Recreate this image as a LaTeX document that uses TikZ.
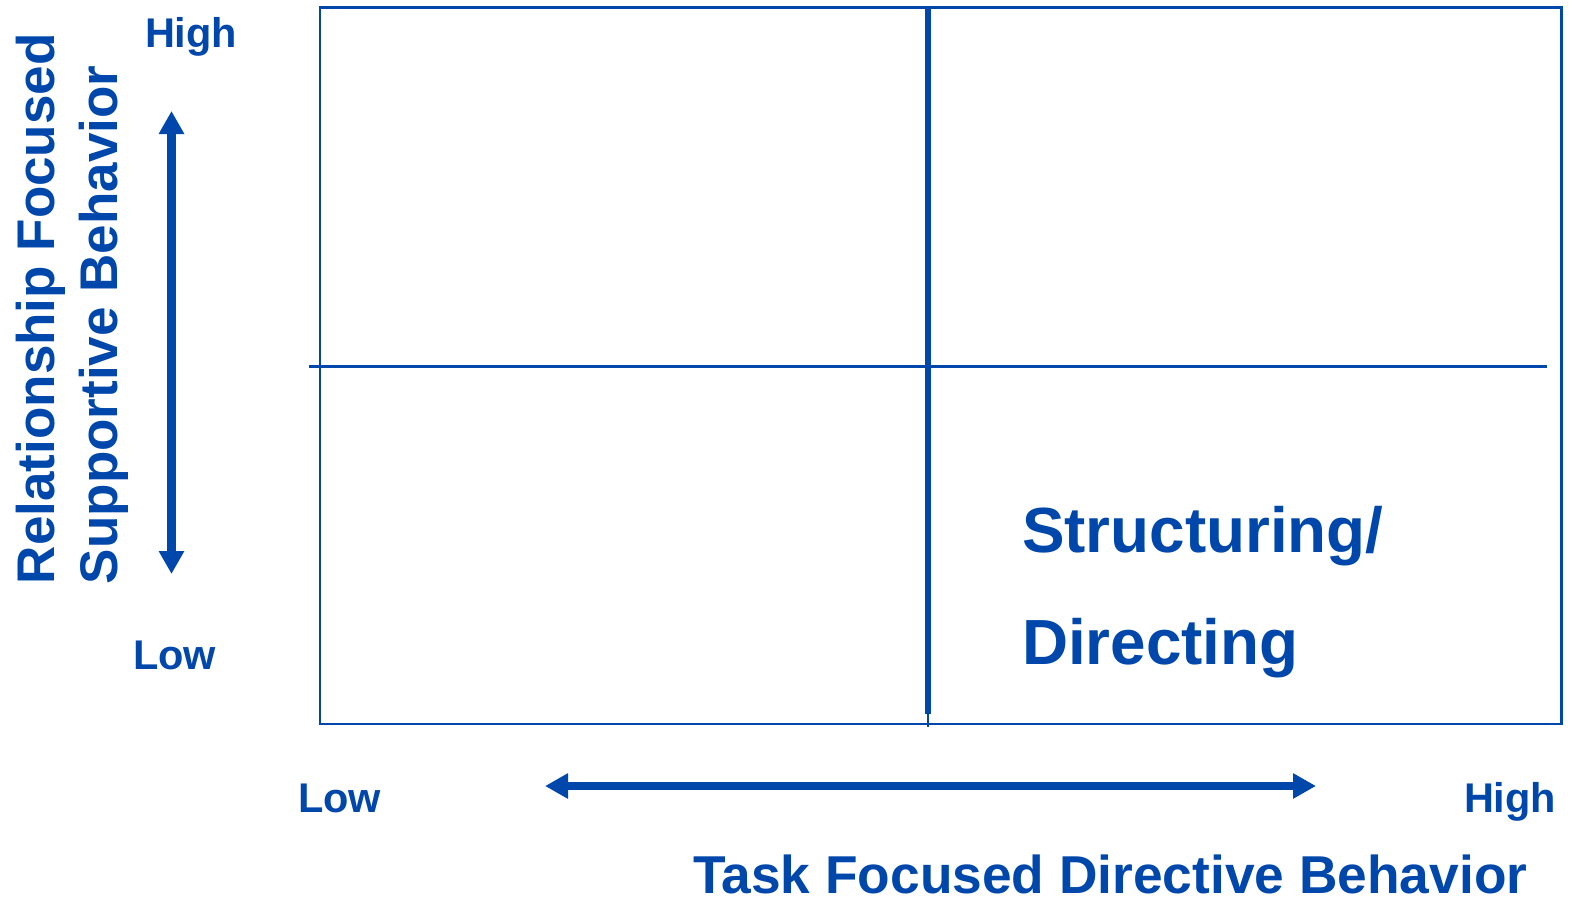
\documentclass[tikz,border=0pt]{standalone}
\usepackage{fontspec}
\setmainfont{Liberation Sans}
\usetikzlibrary{arrows.meta}
\definecolor{gridblue}{RGB}{0,71,171}
\begin{document}
\begin{tikzpicture}[x=1pt,y=-1pt,
  lbl/.style={text=gridblue,font=\bfseries,inner sep=0pt,outer sep=0pt},
  axisarrow/.style={draw=gridblue,line width=8.5pt,
    {Triangle[width=24pt,length=23pt]}-{Triangle[width=24pt,length=23pt]}}]
\useasboundingbox (0,0) rectangle (1573,900);
% quadrant frame
\draw[gridblue,line width=2.5pt] (320,7.5) rectangle (1561.5,724);
% horizontal divider
\coordinate (hl) at (309,366.5);
\coordinate (hr) at (1547,366.5);
\draw[gridblue,line width=2.5pt] (hl) -- (hr);
% vertical divider
\coordinate (vt) at (928,7);
\coordinate (vm) at (928,714);
\coordinate (vb) at (928,727);
\draw[gridblue,line width=5.5pt] (vt) -- (vm);
\draw[gridblue,line width=2pt] (vm) -- (vb);
% axis arrows
\coordinate (ya) at (171.5,111);
\coordinate (yb) at (171.5,574);
\draw[axisarrow] (ya) -- (yb);
\coordinate (xa) at (545,786);
\coordinate (xb) at (1316,786);
\draw[axisarrow] (xa) -- (xb);
% labels
\node[lbl,anchor=base west,font=\fontsize{41.5}{41.5}\selectfont\bfseries] (yhigh) at (145,47) {High};
\node[lbl,anchor=base west,font=\fontsize{41.5}{41.5}\selectfont\bfseries] (ylow) at (133,669) {Low};
\node[lbl,anchor=base west,font=\fontsize{41.5}{41.5}\selectfont\bfseries] (xlow) at (298,812) {Low};
\node[lbl,anchor=base west,font=\fontsize{41.5}{41.5}\selectfont\bfseries] (xhigh) at (1464,812) {High};
\node[lbl,anchor=base west,text depth=0pt,font=\fontsize{53.3}{53.3}\selectfont\bfseries] (xtitle) at (693,893) {Task Focused Directive Behavior};
\node[lbl,anchor=base west,rotate=90,font=\fontsize{53}{53}\selectfont\bfseries] (ytitle1) at (54,584) {Relationship Focused};
\node[lbl,anchor=base west,rotate=90,font=\fontsize{53}{53}\selectfont\bfseries] (ytitle2) at (117,584) {Supportive Behavior};
\node[lbl,anchor=base west,font=\fontsize{63.8}{63.8}\selectfont\bfseries] (q1) at (1022,552) {Structuring/};
\node[lbl,anchor=base west,font=\fontsize{63.8}{63.8}\selectfont\bfseries] (q2) at (1022,664) {Directing};
\end{tikzpicture}
\end{document}
